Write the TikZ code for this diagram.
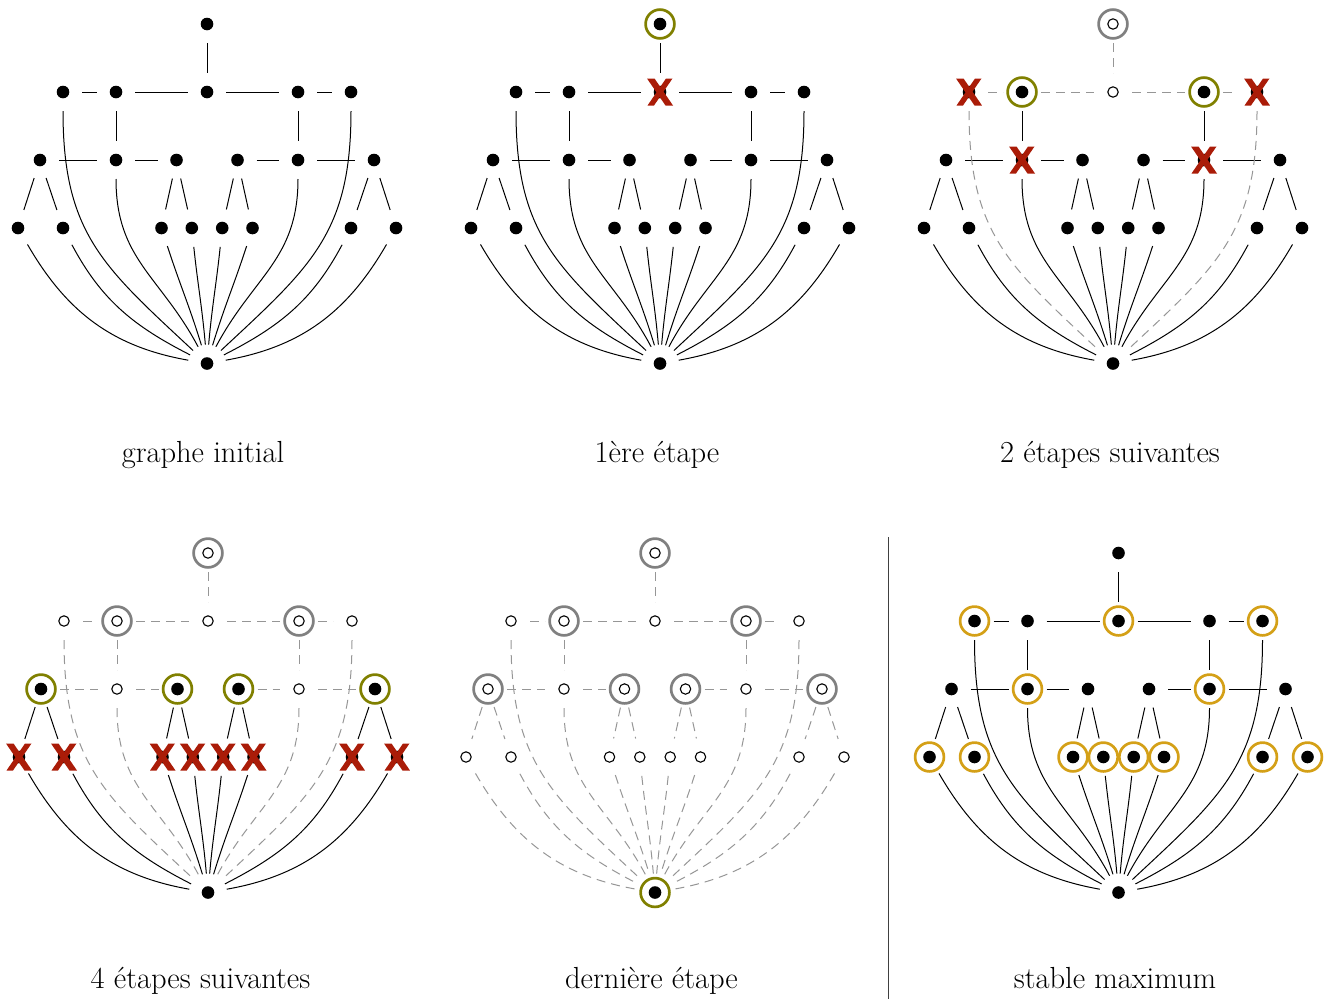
\documentclass[tikz,border=0pt]{standalone}
\usepackage{fontspec}
\usetikzlibrary{calc}
\definecolor{olv}{RGB}{128,128,0}
\definecolor{gld}{RGB}{212,160,23}
\definecolor{gry}{RGB}{128,128,128}
\definecolor{xred}{RGB}{170,28,8}
\definecolor{dgr}{RGB}{150,150,150}
\newcommand\pdot{\fill[black] (path picture bounding box.center) circle[radius=6.3pt];}
\newcommand\popen{\draw[black,line width=1.1pt,fill=white] (path picture bounding box.center) circle[radius=5.2pt];}
\newcommand\pring[1]{\draw[#1,line width=2.7pt] (path picture bounding box.center) circle[radius=14.4pt];}
\newcommand\pcross{\begin{scope}[shift={(path picture bounding box.center)}]
  \fill[xred] (-13pt,13.5pt)--(-5.5pt,13.5pt)--(13pt,-13.5pt)--(5.5pt,-13.5pt)--cycle;
  \fill[xred] (6pt,13.5pt)--(12.5pt,13.5pt)--(-6pt,-13.5pt)--(-12.5pt,-13.5pt)--cycle;
\end{scope}}
\tikzset{
  vtx/.style={circle,minimum size=38pt,inner sep=0pt,outer sep=0pt},
  sD/.style={vtx,path picture={\pdot}},
  sO/.style={vtx,path picture={\popen}},
  sDR/.style={vtx,path picture={\pdot\pring{#1}}},
  sOR/.style={vtx,path picture={\popen\pring{#1}}},
  sDX/.style={vtx,path picture={\pdot\pcross}},
  ln/.style={black,line width=1pt},
  dl/.style={dgr,line width=1pt,dash pattern=on 9pt off 6pt},
  lbl/.style={font=\fontsize{30.5}{36}\selectfont,anchor=base,inner sep=0pt},
  sepline/.style={black!75,line width=1pt},
  nT/.style={sD},nA1/.style={sD},nA2/.style={sD},nA3/.style={sD},nA4/.style={sD},nA5/.style={sD},
  nB1/.style={sD},nB2/.style={sD},nB3/.style={sD},nB4/.style={sD},nB5/.style={sD},nB6/.style={sD},
  nC/.style={sD},nZ/.style={sD},
  eTA/.style={ln},eA12/.style={ln},eA23/.style={ln},eA34/.style={ln},eA45/.style={ln},
  eAB2/.style={ln},eAB5/.style={ln},eB12/.style={ln},eB23/.style={ln},eB45/.style={ln},eB56/.style={ln},
  eBC/.style={ln},eAZ1/.style={ln},eAZ5/.style={ln},eBZ2/.style={ln},eBZ5/.style={ln},eCZ/.style={ln}
}
\newcommand\placenodes[1]{%
  \node[nT] (#1T) at (0,0) {};
  \node[nA1] (#1A1) at (-144,-68) {};
  \node[nA2] (#1A2) at (-91,-68) {};
  \node[nA3] (#1A3) at (0,-68) {};
  \node[nA4] (#1A4) at (91,-68) {};
  \node[nA5] (#1A5) at (144,-68) {};
  \node[nB1] (#1B1) at (-167,-136) {};
  \node[nB2] (#1B2) at (-91,-136) {};
  \node[nB3] (#1B3) at (-30.5,-136) {};
  \node[nB4] (#1B4) at (30.5,-136) {};
  \node[nB5] (#1B5) at (91,-136) {};
  \node[nB6] (#1B6) at (167,-136) {};
  \node[nC] (#1C1) at (-189,-204) {};
  \node[nC] (#1C2) at (-144,-204) {};
  \node[nC] (#1C3) at (-45.5,-204) {};
  \node[nC] (#1C4) at (-15.2,-204) {};
  \node[nC] (#1C5) at (15.2,-204) {};
  \node[nC] (#1C6) at (45.5,-204) {};
  \node[nC] (#1C7) at (144,-204) {};
  \node[nC] (#1C8) at (189,-204) {};
  \node[nZ] (#1Z) at (0,-339.5) {};
}
\newcommand\drawedges[1]{%
  \draw[eTA] (#1T) -- (#1A3);
  \draw[eA12] (#1A1) -- (#1A2);
  \draw[eA23] (#1A2) -- (#1A3);
  \draw[eA34] (#1A3) -- (#1A4);
  \draw[eA45] (#1A4) -- (#1A5);
  \draw[eAB2] (#1A2) -- (#1B2);
  \draw[eAB5] (#1A4) -- (#1B5);
  \draw[eB12] (#1B1) -- (#1B2);
  \draw[eB23] (#1B2) -- (#1B3);
  \draw[eB45] (#1B4) -- (#1B5);
  \draw[eB56] (#1B5) -- (#1B6);
  \draw[eBC] (#1B1) -- (#1C1);
  \draw[eBC] (#1B1) -- (#1C2);
  \draw[eBC] (#1B3) -- (#1C3);
  \draw[eBC] (#1B3) -- (#1C4);
  \draw[eBC] (#1B4) -- (#1C5);
  \draw[eBC] (#1B4) -- (#1C6);
  \draw[eBC] (#1B6) -- (#1C7);
  \draw[eBC] (#1B6) -- (#1C8);
  \draw[eAZ1] (#1A1) to[out=-90,in=137,looseness=1.15] (#1Z);
  \draw[eAZ5] (#1A5) to[out=-90,in=43,looseness=1.15] (#1Z);
  \draw[eBZ2] (#1B2) to[out=-90,in=118,looseness=1.1] (#1Z);
  \draw[eBZ5] (#1B5) to[out=-90,in=62,looseness=1.1] (#1Z);
  \draw[eCZ] (#1C1) to[out=-60,in=170] (#1Z);
  \draw[eCZ] (#1C2) to[out=-62,in=153] (#1Z);
  \draw[eCZ] (#1C3) to[out=-72,in=107] (#1Z);
  \draw[eCZ] (#1C4) to[out=-84,in=95] (#1Z);
  \draw[eCZ] (#1C5) to[out=-96,in=85] (#1Z);
  \draw[eCZ] (#1C6) to[out=-108,in=73] (#1Z);
  \draw[eCZ] (#1C7) to[out=-118,in=27] (#1Z);
  \draw[eCZ] (#1C8) to[out=-120,in=10] (#1Z);
}
\begin{document}
\begin{tikzpicture}[x=1pt,y=1pt]
\useasboundingbox (0,0) rectangle (1333,-999);
% panel 1
\begin{scope}[shift={(207,-24)}]
  \placenodes{a}\drawedges{a}
\end{scope}
% panel 2
\begin{scope}[shift={(660,-24)},nT/.style={sDR=olv},nA3/.style={sDX}]
  \placenodes{b}\drawedges{b}
\end{scope}
% panel 3
\begin{scope}[shift={(1113,-24)},nT/.style={sOR=gry},nA3/.style={sO},
  nA1/.style={sDX},nA2/.style={sDR=olv},nA4/.style={sDR=olv},nA5/.style={sDX},
  nB2/.style={sDX},nB5/.style={sDX},
  eTA/.style={dl},eA12/.style={dl},eA23/.style={dl},eA34/.style={dl},eA45/.style={dl},
  eAZ1/.style={dl},eAZ5/.style={dl}]
  \placenodes{c}\drawedges{c}
\end{scope}
% panel 4
\begin{scope}[shift={(208,-553)},nT/.style={sOR=gry},
  nA1/.style={sO},nA2/.style={sOR=gry},nA3/.style={sO},nA4/.style={sOR=gry},nA5/.style={sO},
  nB1/.style={sDR=olv},nB2/.style={sO},nB3/.style={sDR=olv},nB4/.style={sDR=olv},nB5/.style={sO},nB6/.style={sDR=olv},
  nC/.style={sDX},
  eTA/.style={dl},eA12/.style={dl},eA23/.style={dl},eA34/.style={dl},eA45/.style={dl},
  eAB2/.style={dl},eAB5/.style={dl},eB12/.style={dl},eB23/.style={dl},eB45/.style={dl},eB56/.style={dl},
  eAZ1/.style={dl},eAZ5/.style={dl},eBZ2/.style={dl},eBZ5/.style={dl}]
  \placenodes{d}\drawedges{d}
\end{scope}
% panel 5
\begin{scope}[shift={(655,-553)},nT/.style={sOR=gry},
  nA1/.style={sO},nA2/.style={sOR=gry},nA3/.style={sO},nA4/.style={sOR=gry},nA5/.style={sO},
  nB1/.style={sOR=gry},nB2/.style={sO},nB3/.style={sOR=gry},nB4/.style={sOR=gry},nB5/.style={sO},nB6/.style={sOR=gry},
  nC/.style={sO},nZ/.style={sDR=olv},
  eTA/.style={dl},eA12/.style={dl},eA23/.style={dl},eA34/.style={dl},eA45/.style={dl},
  eAB2/.style={dl},eAB5/.style={dl},eB12/.style={dl},eB23/.style={dl},eB45/.style={dl},eB56/.style={dl},
  eBC/.style={dl},eAZ1/.style={dl},eAZ5/.style={dl},eBZ2/.style={dl},eBZ5/.style={dl},eCZ/.style={dl}]
  \placenodes{e}\drawedges{e}
\end{scope}
% panel 6
\begin{scope}[shift={(1118.5,-553)},
  nA1/.style={sDR=gld},nA3/.style={sDR=gld},nA5/.style={sDR=gld},
  nB2/.style={sDR=gld},nB5/.style={sDR=gld},nC/.style={sDR=gld}]
  \placenodes{f}\drawedges{f}
\end{scope}
% labels
\node[lbl] (l1) at (203,-462) {graphe initial};
\node[lbl] (l2) at (657,-462) {1ère étape};
\node[lbl] (l3) at (1110,-462) {2 étapes suivantes};
\node[lbl] (l4) at (200.5,-988) {4 étapes suivantes};
\node[lbl] (l5) at (651.5,-988) {dernière étape};
\node[lbl] (l6) at (1115,-988) {stable maximum};
% separator
\coordinate (s1) at (888,-537);
\coordinate (s2) at (888,-999);
\draw[sepline] (s1) -- (s2);
\end{tikzpicture}
\end{document}
